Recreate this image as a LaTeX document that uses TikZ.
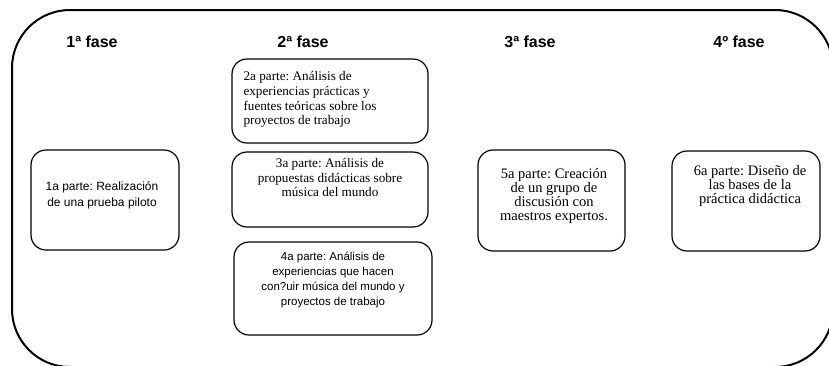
\documentclass[tikz,border=0pt]{standalone}
\usepackage{fontspec}
\setmainfont{Liberation Serif}
\setsansfont{Liberation Sans}
\usetikzlibrary{positioning}
\frenchspacing

\begin{document}
\begin{tikzpicture}[x=1pt, y=1pt,
  fase/.style={font=\sffamily\bfseries\fontsize{16}{19}\selectfont},
  caja/.style={draw, line width=1.2pt, rounded corners=15pt, inner sep=0pt},
  txtsans/.style={font=\sffamily\fontsize{12}{16}\selectfont, align=center},
  txtrom/.style={font=\rmfamily\fontsize{13.2}{14.8}\selectfont},
  txtcam/.style={font=\rmfamily\fontsize{14.5}{14}\selectfont, align=center},
]
\clip (0,0) rectangle (829,-365);

% marco general
\draw[line width=2pt, rounded corners=58pt] (12,-10) rectangle (833,-367);

% fases
\node[fase] (f1) at (92,-42)  {1ª fase};
\node[fase] (f2) at (303,-42) {2ª fase};
\node[fase] (f3) at (530,-42) {3ª fase};
\node[fase] (f4) at (739,-42) {4º fase};

% partes
\node[caja, minimum width=148, minimum height=100] (p1) at (105,-200)   {};
\node[caja, minimum width=196, minimum height=84]  (p2) at (330,-101)   {};
\node[caja, minimum width=196, minimum height=75]  (p3) at (330,-189.5) {};
\node[caja, minimum width=198, minimum height=93]  (p4) at (333,-288.5) {};
\node[caja, minimum width=147, minimum height=101] (p5) at (551.5,-200.5) {};
\node[caja, minimum width=148, minimum height=100] (p6) at (746,-201)   {};

\node[txtsans] (t1) at (102,-195)
    {1a parte: Realización\\de una prueba piloto};
\node[txtrom, align=left, anchor=west] (t2) at (240,-99.5)
    {2a parte: Análisis de\\experiencias prácticas y\\fuentes teóricas sobre los\\proyectos de trabajo};
\node[txtrom, align=center] (t3) at (330,-177.5)
    {3a parte: Análisis de\\propuestas didácticas sobre\\música del mundo};
\node[txtsans, font=\sffamily\fontsize{11.5}{15}\selectfont] (t4) at (333,-279.5)
    {4a parte: Análisis de\\experiencias que hacen\\con?uir música del mundo y\\proyectos de trabajo};
\node[txtcam] (t5) at (554,-196)
    {5a parte: Creación\\de un grupo de\\discusión con\\maestros expertos.};
\node[txtcam] (t6) at (750,-186.5)
    {6a parte: Diseño de\\las bases de la\\práctica didáctica};
\end{tikzpicture}
\end{document}
